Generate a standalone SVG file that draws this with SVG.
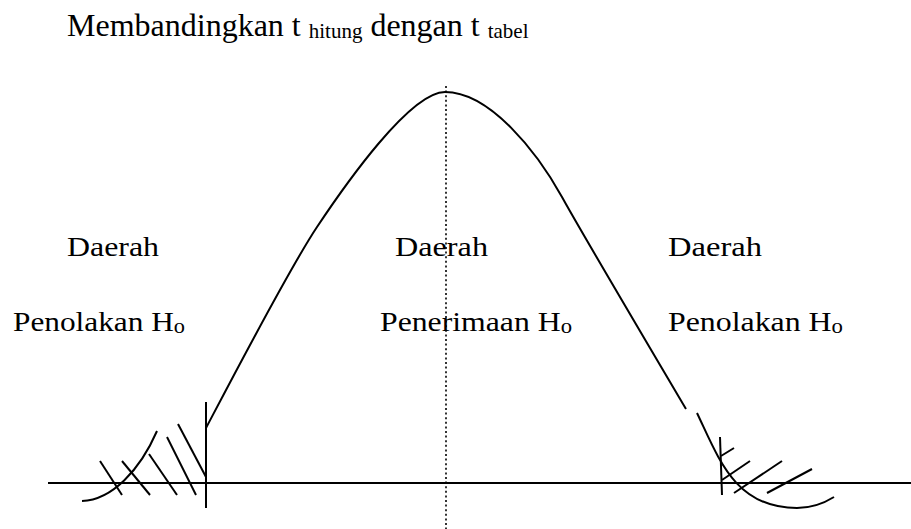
<svg xmlns="http://www.w3.org/2000/svg" width="911" height="529" viewBox="0 0 911 529">
<style>
  text{font-family:"Liberation Serif","Tinos","DejaVu Serif",serif;fill:#000}
  .lbl{font-size:28px}
  .ln{fill:none;stroke:#000;stroke-width:2;stroke-linecap:butt}
  .dot{fill:none;stroke:#000;stroke-width:1.6;stroke-dasharray:2 2.6}
</style>
<rect width="911" height="529" fill="#fff"/>
<g id="title">
  <text font-family="Liberation Serif, serif" x="67" y="36" font-size="32">Membandingkan t <tspan font-size="21" dy="2">hitung</tspan><tspan dy="-2"> dengan t </tspan><tspan font-size="21" dy="2">tabel</tspan></text>
</g>
<g id="axis">
  <line class="ln" x1="48" y1="483" x2="911" y2="483"/>
  <line class="dot" x1="446" y1="86" x2="446" y2="529"/>
</g>
<g id="curve">
  <path class="ln" d="M206,428 C225,392 289,269 317,227 C345,185 410,92 445,92 C490,92 537,152 562,197 C579,228 660,365 686,409"/>
  <path class="ln" d="M697,413 C719,459 735,508 797,508 C815,508 826,502 834,497"/>
  <path class="ln" d="M82,501 C112,500 140,470 157,431"/>
  <line class="ln" x1="206" y1="402" x2="206" y2="508"/>
  <line class="ln" x1="720" y1="437" x2="722" y2="495"/>
</g>
<g id="hatch-left">
  <line class="ln" x1="100" y1="461" x2="122" y2="495"/>
  <line class="ln" x1="122" y1="461" x2="150" y2="495"/>
  <line class="ln" x1="149" y1="454" x2="177" y2="495"/>
  <line class="ln" x1="167" y1="437" x2="196" y2="495"/>
  <line class="ln" x1="178" y1="424" x2="206" y2="477"/>
</g>
<g id="hatch-right">
  <line class="ln" x1="721" y1="456" x2="734" y2="448"/>
  <line class="ln" x1="722" y1="480" x2="750" y2="461"/>
  <line class="ln" x1="734" y1="493" x2="782" y2="461"/>
  <line class="ln" x1="767" y1="493" x2="812" y2="469"/>
</g>
<g id="left-region">
  <text class="lbl" font-family="Liberation Serif, serif" x="67" y="256" textLength="92" lengthAdjust="spacingAndGlyphs">Daerah</text>
  <text class="lbl" font-family="Liberation Serif, serif" x="13" y="331" textLength="172" lengthAdjust="spacingAndGlyphs">Penolakan H<tspan font-size="20" dy="2">o</tspan></text>
</g>
<g id="middle-region">
  <text class="lbl" font-family="Liberation Serif, serif" x="395" y="256" textLength="93" lengthAdjust="spacingAndGlyphs">Daerah</text>
  <text class="lbl" font-family="Liberation Serif, serif" x="380" y="331" textLength="192" lengthAdjust="spacingAndGlyphs">Penerimaan H<tspan font-size="20" dy="2">o</tspan></text>
</g>
<g id="right-region">
  <text class="lbl" font-family="Liberation Serif, serif" x="668" y="256" textLength="94" lengthAdjust="spacingAndGlyphs">Daerah</text>
  <text class="lbl" font-family="Liberation Serif, serif" x="668" y="331" textLength="175" lengthAdjust="spacingAndGlyphs">Penolakan H<tspan font-size="20" dy="2">o</tspan></text>
</g>
</svg>
